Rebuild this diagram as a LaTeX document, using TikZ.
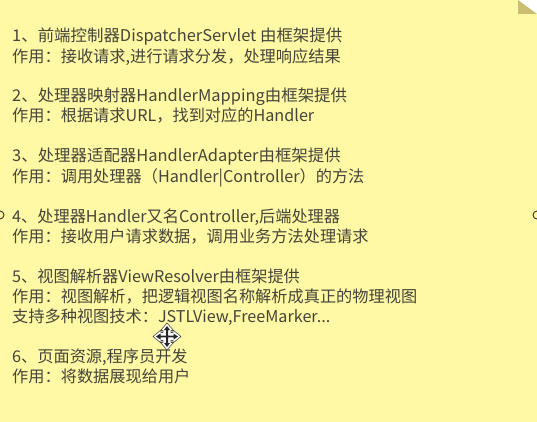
\documentclass[tikz,border=0pt]{standalone}
\usepackage{fontspec}
\setmainfont{Noto Sans CJK SC}
\definecolor{note}{HTML}{FFF8A4}
\definecolor{fold}{HTML}{C9BE72}
\definecolor{ink}{HTML}{45453A}
\tikzset{
  line/.style={anchor=base west,inner sep=0pt,text=ink,font=\fontsize{16.2pt}{18pt}\selectfont},
  wider/.style={line,xscale=1.015},
  handle/.style={circle,draw=black!65!brown,fill=note,line width=0.9pt,minimum size=8pt,inner sep=0pt},
  arrowpart/.style={fill=white,draw=black!70,line width=0.6pt,line join=round},
  arrowcore/.style={fill=black!85}
}
\begin{document}
\begin{tikzpicture}[x=1pt,y=-1pt]
\useasboundingbox (0,0) rectangle (537,422);
\fill[note] (0,0) rectangle (537,422);
\fill[white] (518,0) -- (537,0) -- (537,14) -- cycle;
\fill[fold] (518,0) -- (537,14) -- (518,14) -- cycle;
\node[handle] (hl) at (0,215) {};
\node[handle] (hr) at (537,215) {};
\node[wider] (t1) at (12,41.5) {1、前端控制器DispatcherServlet 由框架提供};
\node[line] (t2) at (12,63) {作用：接收请求,进行请求分发，处理响应结果};
\node[wider] (t3) at (12,101.5) {2、处理器映射器HandlerMapping由框架提供};
\node[line] (t4) at (12,122) {作用：根据请求URL，找到对应的Handler};
\node[wider] (t5) at (12,161.5) {3、处理器适配器HandlerAdapter由框架提供};
\node[line] (t6) at (12,182) {作用：调用处理器（Handler|Controller）的方法};
\node[line] (t7) at (12,222) {4、处理器Handler又名Controller,后端处理器};
\node[line] (t8) at (12,242) {作用：接收用户请求数据，调用业务方法处理请求};
\node[line] (t9) at (12,282) {5、视图解析器ViewResolver由框架提供};
\node[line] (t10) at (12,302) {作用：视图解析，把逻辑视图名称解析成真正的物理视图};
\node[line] (t11) at (12,322) {支持多种视图技术：JSTLView,FreeMarker...};
\node[line] (t12) at (12,362) {6、页面资源,程序员开发};
\node[line] (t13) at (12,382) {作用：将数据展现给用户};
% move cursor
\draw[arrowpart] (167,323) -- (173.5,330.5) -- (171,330.5) -- (171,332.5) -- (173,332.5) -- (173,330) -- (181,336.5) -- (173,343) -- (173,340.5) -- (171,340.5) -- (171,342.5) -- (173.5,342.5) -- (167,350) -- (160.5,342.5) -- (163,342.5) -- (163,340.5) -- (161,340.5) -- (161,343) -- (153,336.5) -- (161,330) -- (161,332.5) -- (163,332.5) -- (163,330.5) -- (160.5,330.5) -- cycle;
\fill[arrowcore] (167,326) -- (170,330) -- (168,330) -- (168,335.7) -- (173.5,335.7) -- (173.5,333.5) -- (178,336.5) -- (173.5,339.5) -- (173.5,337.3) -- (168,337.3) -- (168,343) -- (170,343) -- (167,347) -- (164,343) -- (166,343) -- (166,337.3) -- (160.5,337.3) -- (160.5,339.5) -- (156,336.5) -- (160.5,333.5) -- (160.5,335.7) -- (166,335.7) -- (166,330) -- (164,330) -- cycle;
\end{tikzpicture}
\end{document}
